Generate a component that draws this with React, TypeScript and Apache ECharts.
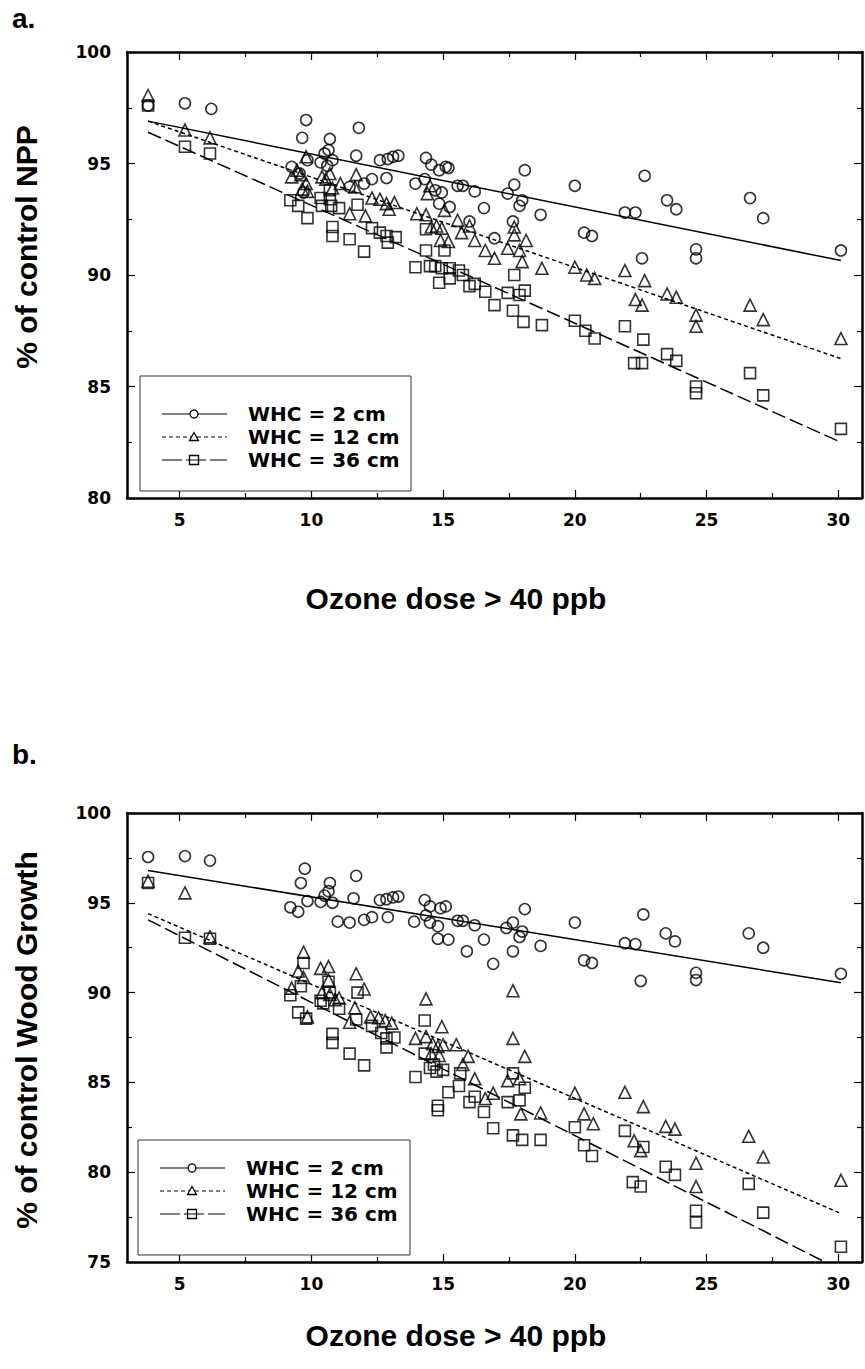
import React, { useEffect, useRef } from "react";
import * as echarts from "echarts";

// ---------- axes ----------
const xMin = 3;
const xMax = 30.9;
const xMajor = [5, 10, 15, 20, 25, 30];
const xMinor = [7.5, 12.5, 17.5, 22.5, 27.5];
const yRangeA = [80, 100];
const yRangeB = [75, 100];

const legendLabels = ["WHC = 2 cm", "WHC = 12 cm", "WHC = 36 cm"];

// ---------- panel a : % of control NPP ----------
const circlesA = [
  [3.8, 97.6], [5.2, 97.7], [6.2, 97.45],
  [9.25, 94.85], [9.55, 94.55], [9.65, 96.15], [9.8, 96.95], [9.85, 95.15], [9.7, 93.7],
  [10.35, 95.05], [10.5, 95.45], [10.65, 95.6], [10.7, 96.1], [10.8, 95.15], [10.6, 94.9],
  [11.45, 93.95], [11.7, 95.35], [11.8, 96.6], [12.0, 94.1], [12.3, 94.3], [12.6, 95.15],
  [12.85, 94.35], [12.9, 95.2], [13.1, 95.3], [13.3, 95.35],
  [13.95, 94.1], [14.3, 94.3], [14.35, 95.25], [14.55, 94.95], [14.7, 93.8], [14.85, 94.7],
  [14.95, 93.7], [15.1, 94.85], [15.2, 94.8], [14.85, 93.2], [15.25, 93.05],
  [15.55, 94.0], [15.75, 94.0], [16.0, 92.4], [16.2, 93.75], [16.55, 93.0], [16.95, 91.65],
  [17.45, 93.65], [17.65, 92.4], [17.7, 94.05], [17.9, 93.1], [18.0, 93.35], [18.1, 94.7], [18.7, 92.7],
  [20.0, 94.0], [20.35, 91.9], [20.65, 91.75],
  [21.9, 92.8], [22.3, 92.8], [22.55, 90.75], [22.65, 94.45], [23.5, 93.35], [23.85, 92.95],
  [24.6, 91.15], [24.6, 90.75], [26.65, 93.45], [27.15, 92.55], [30.1, 91.1],
];
const trianglesA = [
  [3.8, 98.05], [5.2, 96.5], [6.15, 96.15],
  [9.25, 94.4], [9.45, 94.7], [9.6, 94.5], [9.8, 95.3], [9.8, 94.1], [9.65, 93.85], [9.85, 93.75],
  [10.4, 94.4], [10.55, 94.3], [10.7, 94.55], [10.8, 93.9], [11.1, 94.1], [11.45, 92.75],
  [11.7, 94.5], [11.65, 93.95],
  [12.05, 92.65], [12.3, 93.45], [12.6, 93.4], [12.85, 93.2], [12.95, 92.95], [13.15, 93.25],
  [14.0, 92.75], [14.35, 92.7], [14.4, 93.65], [14.5, 94.0], [14.55, 92.15], [14.75, 92.2],
  [14.9, 91.55], [14.95, 92.1], [15.05, 92.9], [15.2, 91.5], [15.55, 92.45], [15.7, 91.9],
  [16.0, 92.2], [16.2, 91.55],
  [16.6, 91.1], [16.95, 90.75], [17.45, 91.2], [17.7, 92.15], [17.7, 91.8], [17.9, 91.1],
  [18.0, 90.6], [18.15, 91.55], [18.75, 90.3],
  [20.0, 90.35], [20.45, 90.0], [20.75, 89.85],
  [21.9, 90.2], [22.3, 88.9], [22.55, 88.65], [22.65, 89.75], [23.5, 89.15], [23.85, 89.0],
  [24.6, 88.2], [24.6, 87.7], [26.65, 88.65], [27.15, 88.0], [30.1, 87.15],
];
const squaresA = [
  [3.8, 97.6], [5.2, 95.75], [6.15, 95.45],
  [9.2, 93.35], [9.5, 93.1], [9.85, 92.55], [10.35, 93.45], [10.4, 93.1], [10.7, 93.4],
  [10.7, 93.8], [10.75, 93.1], [10.8, 92.15], [10.8, 91.75], [11.05, 93.0], [11.45, 91.6], [11.75, 93.15],
  [12.0, 91.05], [12.3, 92.1], [12.6, 91.9], [12.85, 91.75], [12.9, 91.45], [13.2, 91.7],
  [13.95, 90.35], [14.35, 92.05], [14.35, 91.1], [14.5, 90.4], [14.7, 90.4], [14.85, 89.65],
  [14.95, 90.3], [15.05, 91.1], [15.25, 90.3], [15.25, 89.85], [15.6, 90.2], [15.75, 90.0],
  [16.0, 89.5], [16.2, 89.6],
  [16.6, 89.25], [16.95, 88.65], [17.45, 89.2], [17.7, 90.0], [17.65, 88.4], [17.9, 89.1],
  [18.05, 87.9], [18.1, 89.3], [18.75, 87.75],
  [20.0, 87.95], [20.4, 87.5], [20.75, 87.15],
  [21.9, 87.7], [22.25, 86.05], [22.55, 86.05], [22.6, 87.1], [23.5, 86.45], [23.85, 86.15],
  [24.6, 85.0], [24.6, 84.7], [26.65, 85.6], [27.15, 84.6], [30.1, 83.1],
];
const fitCirclesA = [[3.8, 96.9], [30.1, 90.65]];
const fitTrianglesA = [[3.8, 96.9], [30.1, 86.25]];
const fitSquaresA = [[3.8, 96.4], [30.1, 82.5]];

// ---------- panel b : % of control Wood Growth ----------
const circlesB = [
  [3.8, 97.55], [5.2, 97.6], [6.15, 97.35],
  [9.2, 94.75], [9.5, 94.5], [9.6, 96.1], [9.75, 96.9], [9.85, 95.1],
  [10.35, 95.05], [10.5, 95.4], [10.65, 95.65], [10.7, 96.1], [10.8, 95.0], [11.0, 93.95],
  [11.45, 93.9], [11.6, 95.25], [11.7, 96.5], [12.0, 94.05], [12.3, 94.2], [12.6, 95.15],
  [12.9, 94.2], [12.85, 95.2], [13.1, 95.3], [13.3, 95.35],
  [13.9, 93.95], [14.3, 95.15], [14.35, 94.3], [14.5, 94.8], [14.5, 93.9], [14.8, 93.7],
  [14.9, 94.7], [15.1, 94.8], [14.8, 93.0], [15.2, 92.95],
  [15.55, 94.0], [15.75, 94.0], [15.9, 92.3], [16.2, 93.75], [16.55, 92.95], [16.9, 91.6],
  [17.4, 93.6], [17.65, 92.3], [17.65, 93.9], [17.9, 93.1], [18.0, 93.4], [18.1, 94.65], [18.7, 92.6],
  [20.0, 93.9], [20.35, 91.8], [20.65, 91.65],
  [21.9, 92.75], [22.3, 92.7], [22.5, 90.65], [22.6, 94.35], [23.45, 93.3], [23.8, 92.85],
  [24.6, 91.1], [24.6, 90.7], [26.6, 93.3], [27.15, 92.5], [30.1, 91.05],
];
const trianglesB = [
  [3.8, 96.2], [5.2, 95.55], [6.15, 93.1],
  [9.25, 90.25], [9.5, 91.2], [9.7, 90.85], [9.7, 92.25], [9.85, 88.65],
  [10.35, 91.35], [10.4, 90.0], [10.65, 91.45], [10.65, 90.7], [10.7, 89.9], [10.9, 89.6],
  [11.05, 89.7], [11.45, 88.35], [11.65, 89.15], [11.7, 91.05], [12.0, 90.2],
  [12.25, 88.65], [12.55, 88.6], [12.8, 88.45], [13.05, 88.3],
  [13.95, 87.45], [14.35, 89.65], [14.35, 87.55], [14.6, 87.15], [14.55, 86.6], [14.8, 87.0],
  [14.85, 86.5], [14.95, 88.1], [15.0, 87.1], [15.5, 87.1], [15.75, 86.0], [15.95, 86.45], [16.2, 85.2],
  [16.6, 84.1], [16.9, 84.4], [17.45, 85.1], [17.65, 90.1], [17.65, 87.45], [17.9, 85.2],
  [17.95, 83.25], [18.1, 86.45], [18.7, 83.3],
  [20.0, 84.4], [20.35, 83.25], [20.7, 82.7],
  [21.9, 84.45], [22.25, 81.75], [22.5, 81.2], [22.6, 83.65], [23.45, 82.55], [23.8, 82.4],
  [24.6, 80.5], [24.6, 79.2], [26.6, 82.0], [27.15, 80.85], [30.1, 79.55],
];
const squaresB = [
  [3.8, 96.1], [5.2, 93.05], [6.15, 93.0],
  [9.2, 89.85], [9.5, 88.9], [9.6, 90.35], [9.7, 91.65], [9.8, 88.55], [10.35, 89.55],
  [10.45, 89.4], [10.65, 90.6], [10.7, 90.0], [10.8, 87.7], [10.8, 87.2], [11.05, 89.1],
  [11.45, 86.6], [11.7, 88.5], [11.75, 90.0],
  [12.0, 85.95], [12.3, 88.15], [12.65, 87.75], [12.85, 87.45], [12.85, 86.95], [13.15, 87.5],
  [13.95, 85.3], [14.3, 88.45], [14.3, 86.6], [14.5, 85.8], [14.65, 86.0], [14.75, 85.6],
  [14.8, 83.7], [14.8, 83.45], [15.0, 85.7], [15.2, 84.45], [15.6, 84.8], [15.65, 85.5],
  [16.0, 83.9], [16.2, 84.2],
  [16.55, 83.35], [16.9, 82.45], [17.45, 83.9], [17.65, 85.5], [17.65, 82.05], [17.9, 84.0],
  [18.0, 81.8], [18.1, 84.7], [18.7, 81.8],
  [20.0, 82.5], [20.35, 81.5], [20.65, 80.9],
  [21.9, 82.3], [22.2, 79.45], [22.5, 79.2], [22.6, 81.4], [23.45, 80.3], [23.8, 79.85],
  [24.6, 77.85], [24.6, 77.2], [26.6, 79.35], [27.15, 77.75], [30.1, 75.85],
];
const fitCirclesB = [[3.8, 96.8], [30.1, 90.55]];
const fitTrianglesB = [[3.8, 94.4], [30.1, 77.7]];
const fitSquaresB = [[3.8, 94.05], [30.1, 74.55]];

// ---------- styling ----------
const TICK_FONT = '"DejaVu Sans"';
const TITLE_FONT = '"Liberation Sans", Arial, sans-serif';
const BLACK = "#000";

function xAxesFor(gridIndex: number) {
  const base = {
    type: "value",
    gridIndex,
    min: xMin,
    max: xMax,
    splitLine: { show: false },
    minorSplitLine: { show: false },
  };
  const line = { show: true, onZero: false, lineStyle: { color: BLACK, width: 2.5 } };
  const noLine = { show: false, onZero: false };
  const tickStyle = { color: BLACK, width: 1.2 };
  return [
    {
      ...base,
      position: "bottom",
      axisLine: line,
      axisTick: { show: true, inside: true, length: 8, customValues: xMajor, lineStyle: tickStyle },
      axisLabel: {
        show: true,
        customValues: xMajor,
        margin: 13,
        color: BLACK,
        fontFamily: TICK_FONT,
        fontWeight: "bold",
        fontSize: 17,
      },
    },
    {
      ...base,
      position: "bottom",
      axisLine: noLine,
      axisTick: { show: true, inside: true, length: 5, customValues: xMinor, lineStyle: tickStyle },
      axisLabel: { show: false },
    },
    {
      ...base,
      position: "top",
      axisLine: line,
      axisTick: { show: true, inside: true, length: 8, customValues: xMajor, lineStyle: tickStyle },
      axisLabel: { show: false },
    },
    {
      ...base,
      position: "top",
      axisLine: noLine,
      axisTick: { show: true, inside: true, length: 5, customValues: xMinor, lineStyle: tickStyle },
      axisLabel: { show: false },
    },
  ];
}

function yAxesFor(gridIndex: number, range: number[]) {
  const base = {
    type: "value",
    gridIndex,
    min: range[0],
    max: range[1],
    interval: 5,
    splitLine: { show: false },
    minorSplitLine: { show: false },
    axisLine: { show: true, onZero: false, lineStyle: { color: BLACK, width: 2.5 } },
    axisTick: { show: true, inside: true, length: 8, lineStyle: { color: BLACK, width: 1.2 } },
    minorTick: { show: true, splitNumber: 2, length: 5, lineStyle: { color: BLACK, width: 1.2 } },
  };
  return [
    {
      ...base,
      position: "left",
      axisLabel: {
        show: true,
        margin: 16,
        color: BLACK,
        fontFamily: TICK_FONT,
        fontWeight: "bold",
        fontSize: 17,
      },
    },
    { ...base, position: "right", axisLabel: { show: false } },
  ];
}

function scatter(data: number[][], symbol: string, size: number, xi: number, yi: number) {
  return {
    type: "scatter",
    xAxisIndex: xi,
    yAxisIndex: yi,
    data,
    symbol,
    symbolSize: size,
    silent: true,
    z: 3,
    itemStyle: { color: "rgba(0,0,0,0)", borderColor: BLACK, borderWidth: 1.6 },
  };
}

function fitLine(data: number[][], dash: any, xi: number, yi: number) {
  return {
    type: "line",
    xAxisIndex: xi,
    yAxisIndex: yi,
    data,
    symbol: "none",
    silent: true,
    clip: true,
    z: 2,
    lineStyle: { color: BLACK, width: 1.5, type: dash },
  };
}

function legendGraphic(box: number[], rows: number[]) {
  const [bx, by, bw, bh] = box;
  const els: any[] = [
    {
      type: "rect",
      shape: { x: bx, y: by, width: bw, height: bh },
      style: { fill: "#fff", stroke: "#333", lineWidth: 1 },
      z: 10,
    },
  ];
  const dashes: any[] = [null, [4, 3], [20, 4]];
  const lx1 = bx + 22;
  const lx2 = bx + 87;
  const mx = bx + 54;
  rows.forEach((ry, i) => {
    els.push({
      type: "line",
      shape: { x1: lx1, y1: ry, x2: lx2, y2: ry },
      style: { stroke: BLACK, lineWidth: 1.2, lineDash: dashes[i] },
      z: 11,
    });
    if (i === 0) {
      els.push({
        type: "circle",
        shape: { cx: mx, cy: ry, r: 4 },
        style: { fill: "#fff", stroke: BLACK, lineWidth: 1.3 },
        z: 12,
      });
    } else if (i === 1) {
      els.push({
        type: "polygon",
        shape: { points: [[mx, ry - 4.5], [mx + 4.5, ry + 3.5], [mx - 4.5, ry + 3.5]] },
        style: { fill: "#fff", stroke: BLACK, lineWidth: 1.3 },
        z: 12,
      });
    } else {
      els.push({
        type: "rect",
        shape: { x: mx - 4.5, y: ry - 4.5, width: 9, height: 9 },
        style: { fill: "none", stroke: BLACK, lineWidth: 1.3 },
        z: 12,
      });
    }
    els.push({
      type: "text",
      x: bx + 108,
      y: ry,
      z: 12,
      style: {
        text: legendLabels[i],
        font: `bold 20px ${TICK_FONT}`,
        fill: BLACK,
        align: "left",
        verticalAlign: "middle",
        textAlign: "left",
        textVerticalAlign: "middle",
      },
    });
  });
  return els;
}

function textEl(text: string, x: number, y: number, size: number, rotate = 0, align = "center", vAlign = "middle") {
  return {
    type: "text",
    x,
    y,
    rotation: rotate,
    z: 12,
    style: {
      text,
      font: `bold ${size}px ${TITLE_FONT}`,
      fill: BLACK,
      align,
      verticalAlign: vAlign,
      textAlign: align,
      textVerticalAlign: vAlign,
    },
  };
}

export default function App() {
  const ref = useRef<HTMLDivElement>(null);
  useEffect(() => {
    document.body.style.margin = "0";
    if (!ref.current) return;
    const chart = echarts.init(ref.current, null, { renderer: "svg" });
    const option: any = {
      animation: false,
      backgroundColor: "#fff",
      grid: [
        { left: 127, top: 52, width: 735, height: 446 },
        { left: 127, top: 813, width: 735, height: 449 },
      ],
      xAxis: [...xAxesFor(0), ...xAxesFor(1)],
      yAxis: [...yAxesFor(0, yRangeA), ...yAxesFor(1, yRangeB)],
      series: [
        fitLine(fitCirclesA, "solid", 0, 0),
        fitLine(fitTrianglesA, [4, 3], 0, 0),
        fitLine(fitSquaresA, [14, 5], 0, 0),
        scatter(circlesA, "circle", 11, 0, 0),
        scatter(trianglesA, "triangle", 12, 0, 0),
        scatter(squaresA, "rect", 11, 0, 0),
        fitLine(fitCirclesB, "solid", 4, 2),
        fitLine(fitTrianglesB, [4, 3], 4, 2),
        fitLine(fitSquaresB, [14, 5], 4, 2),
        scatter(circlesB, "circle", 11, 4, 2),
        scatter(trianglesB, "triangle", 12, 4, 2),
        scatter(squaresB, "rect", 11, 4, 2),
      ],
      graphic: [
        textEl("a.", 12, 4, 28, 0, "left", "top"),
        textEl("b.", 12, 740, 28, 0, "left", "top"),
        textEl("% of control NPP", 26, 247, 30, Math.PI / 2),
        textEl("% of control Wood Growth", 26, 1040, 30, Math.PI / 2),
        textEl("Ozone dose > 40 ppb", 456, 598, 30),
        textEl("Ozone dose > 40 ppb", 456, 1335, 30),
        ...legendGraphic([140, 376, 271, 115], [414, 437, 460]),
        ...legendGraphic([138, 1140, 272, 115], [1168, 1191, 1214]),
      ],
    };
    chart.setOption(option);
    return () => chart.dispose();
  }, []);
  return <div ref={ref} style={{ width: 865, height: 1369 }} />;
}
